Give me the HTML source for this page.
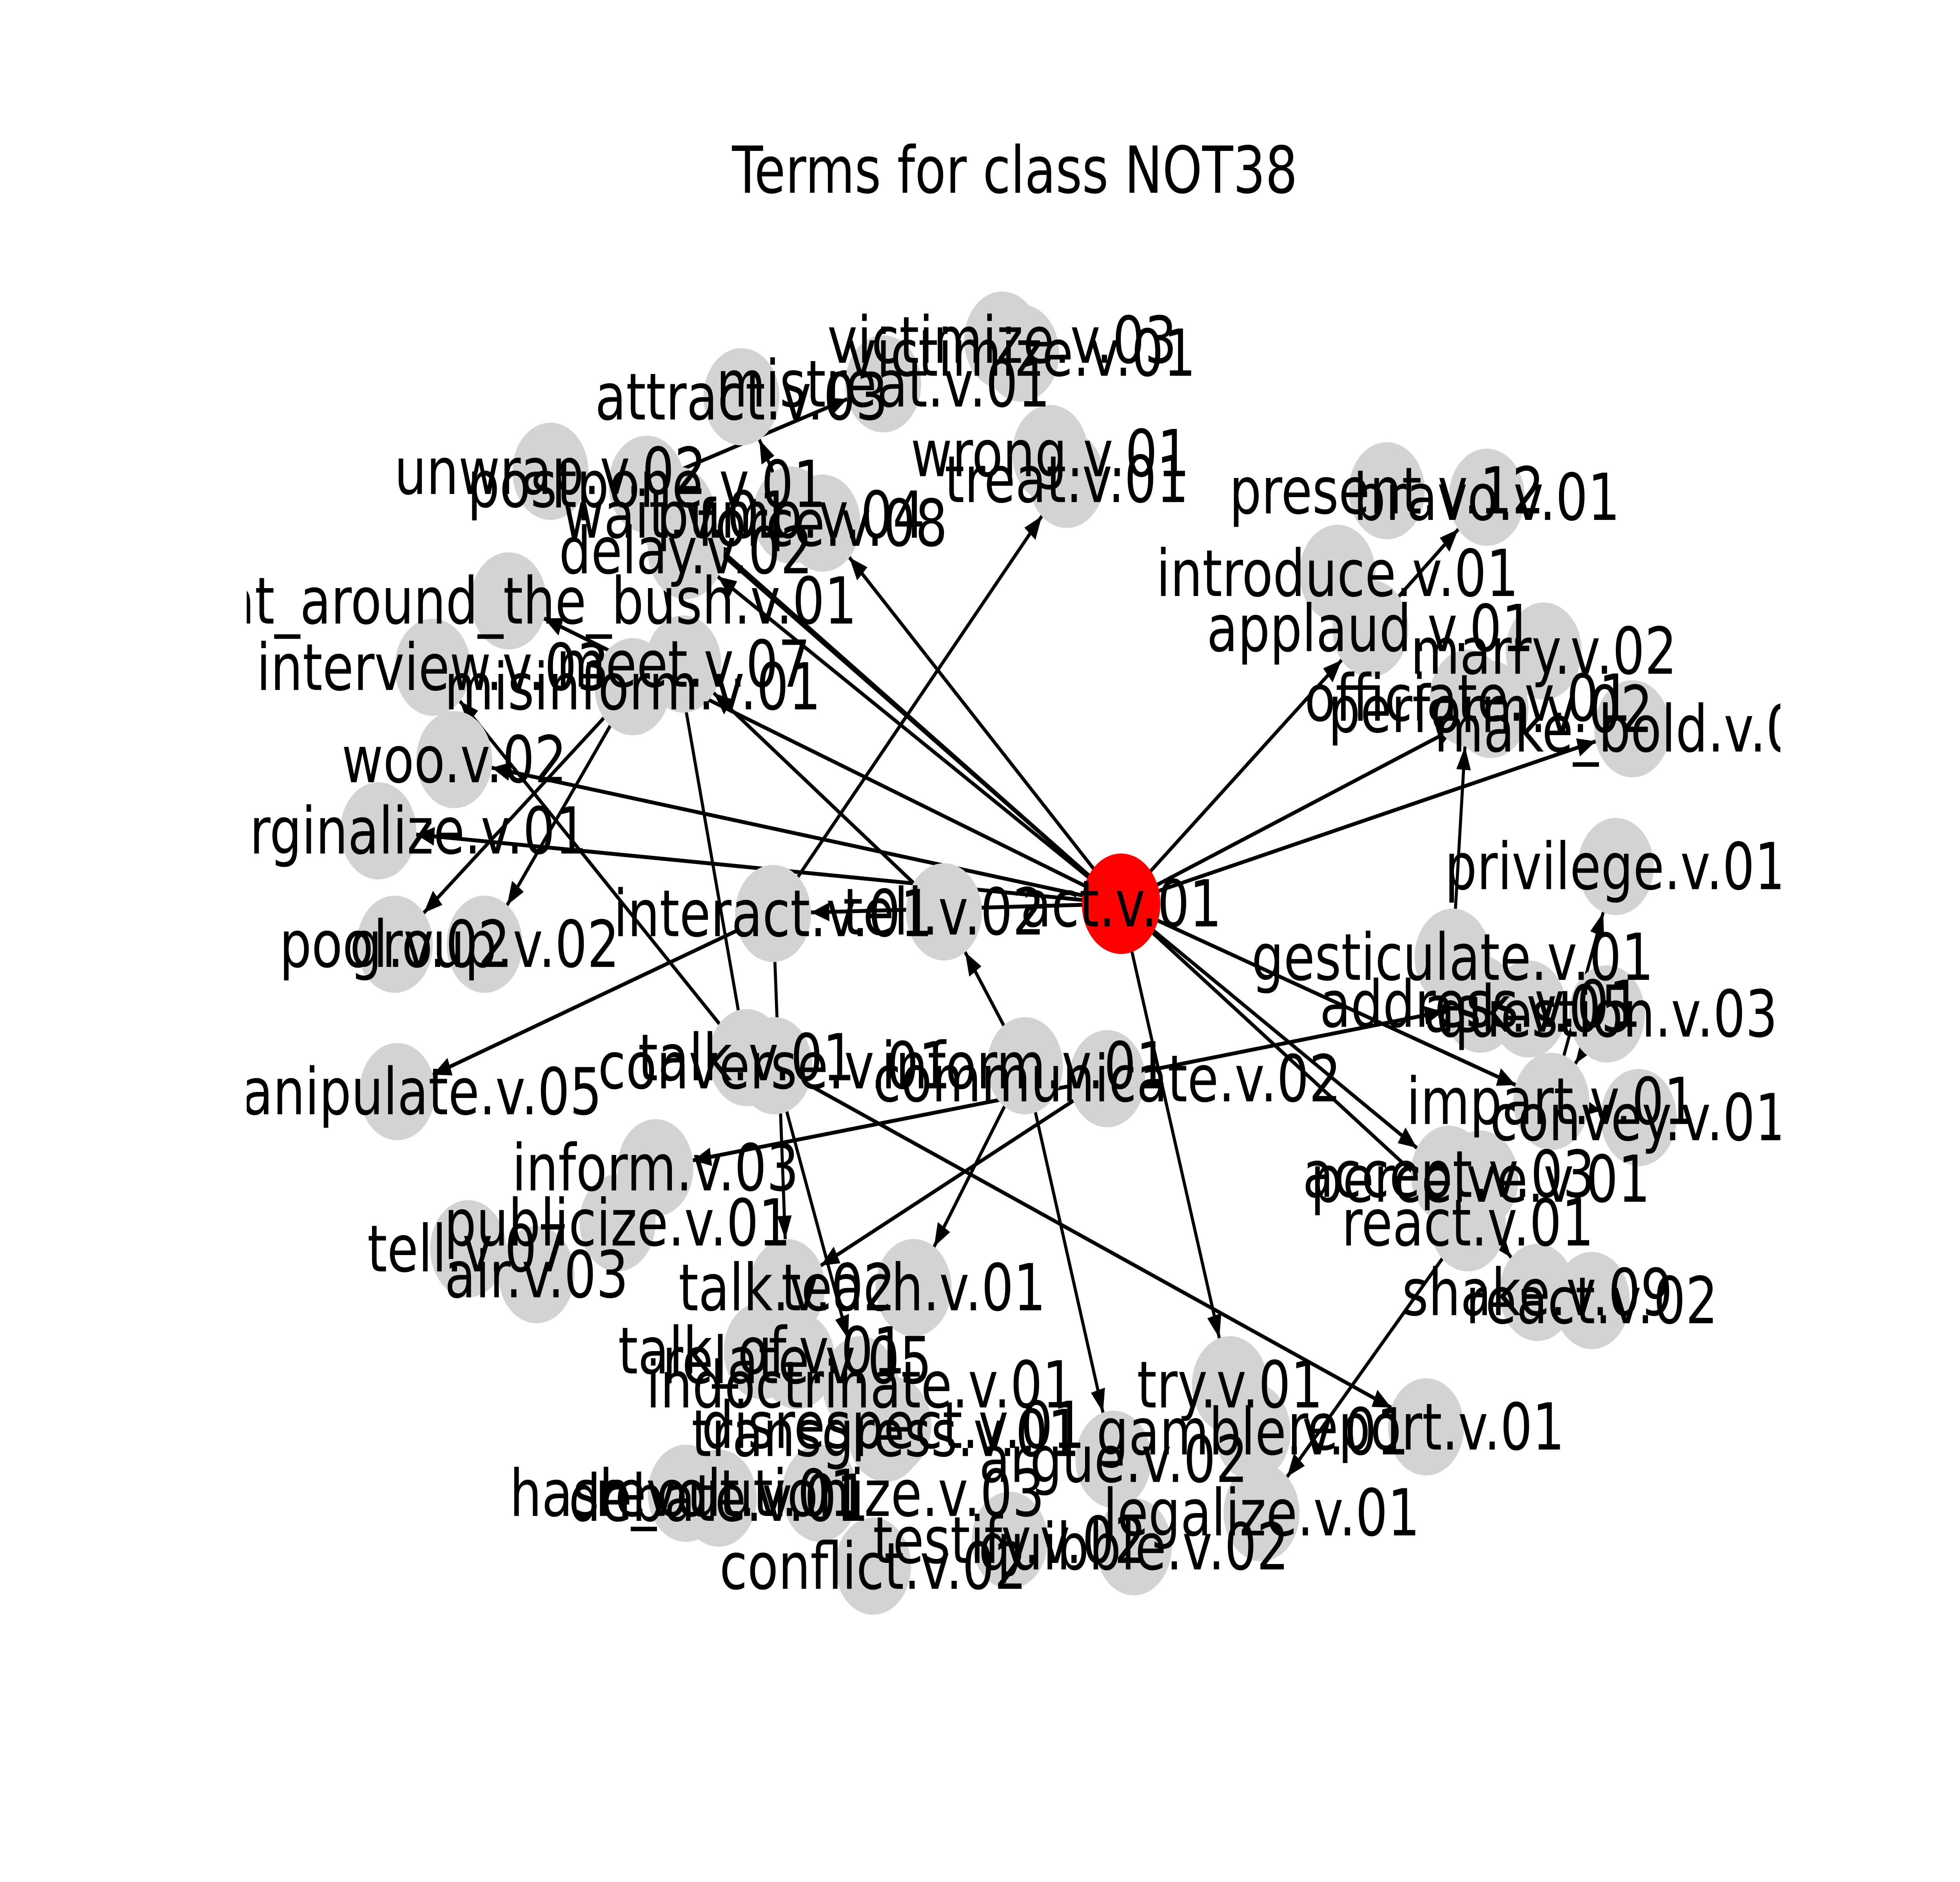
<!DOCTYPE html>
<html><head><meta charset="utf-8"><style>
html,body{margin:0;padding:0;background:#fff;width:100%;height:100%;overflow:hidden}
svg{display:block;position:absolute;left:0;top:0;width:100vw;height:100vh}
text{font-family:"DejaVu Sans","Liberation Sans",sans-serif}
</style></head><body>
<svg id="chart" viewBox="0 0 1549 1162" preserveAspectRatio="none" xmlns="http://www.w3.org/2000/svg">
<defs>
<clipPath id="axclip"><rect x="195" y="140" width="1212" height="880"/></clipPath>
<marker id="arr" viewBox="0 0 10 10" refX="10" refY="5" markerWidth="6" markerHeight="6" markerUnits="strokeWidth" orient="auto"><path d="M0,1 L10,5 L0,9 z" fill="#000"/></marker>
</defs>
<text x="802" y="119" font-size="40" text-anchor="middle">Terms for class NOT38</text>
<g id="edges"></g>
<g id="nodes"></g>
<g id="labels" clip-path="url(#axclip)"></g>
</svg>
<script>
const nodeNames = ["act.v.01","victimize.v.03","victimize.v.01","attract.v.03","mistreat.v.01","wrong.v.01","treat.v.01","unwrap.v.02","postpone.v.01","wait.v.01","pump.v.04","force.v.08","delay.v.02","beat_around_the_bush.v.01","interview.v.03","meet.v.07","misinform.v.01","woo.v.02","marginalize.v.01","pool.v.02","group.v.02","interact.v.01","tell.v.02","manipulate.v.05","talk.v.01","converse.v.01","inform.v.01","communicate.v.02","inform.v.03","publicize.v.01","tell.v.07","air.v.03","talk.v.02","teach.v.01","talk_of.v.01","relate.v.05","indoctrinate.v.01","disrespect.v.01","transgress.v.01","hash_out.v.01","debate.v.01","revolutionize.v.03","argue.v.02","gamble.v.01","conflict.v.02","testify.v.02","quibble.v.02","legalize.v.01","try.v.01","report.v.01","present.v.12","bravo.v.01","introduce.v.01","applaud.v.01","marry.v.02","officiate.v.01","perform.v.02","make_bold.v.01","privilege.v.01","gesticulate.v.01","address.v.01","ask.v.05","question.v.03","impart.v.01","convey.v.01","accept.v.03","perceive.v.01","react.v.01","shake.v.09","react.v.02"];
const nodeX = [886,792,807,586,698,830,843,435,511,535,625,650,542,402,342,540,500,359,299,312,383,611,746,314,590,612,810,875,518,488,370,424,622,722,602,630,680,706,700,542,568,648,880,990,690,798,896,997,972,1127,1096,1175,1057,1083,1220,1160,1178,1290,1277,1148,1170,1208,1270,1226,1295,1145,1170,1160,1215,1258];
const nodeY = [558,210,218,245,237,280,296,291,299,318,318,323,340,371,412,410,424,469,513,583,583,564,563,674,653,658,658,666,721,755,771,787,795,795,834,840,855,880,885,922,925,922,901,884,967,951,955,934,855,881,303,307,354,388,402,431,438,450,535,591,620,623,626,680,690,725,728,755,798,803];
const edgeFrom = [0,0,0,0,0,0,0,0,0,0,0,0,0,0,10,8,21,21,21,16,24,26,26,26,27,27,27,25,25,22,59,63,67,65,24,16,0,53,62,63];
const edgeTo   = [12,11,13,17,18,53,56,57,48,67,63,21,65,8,3,4,6,23,32,20,14,22,33,42,28,60,32,36,49,15,55,58,47,68,8,19,9,51,63,64];

const NS="http://www.w3.org/2000/svg";
const eg=document.getElementById('edges'), ng=document.getElementById('nodes'), lg=document.getElementById('labels');
function px(i){return nodeX[i];}
function py(i){return nodeY[i];}
for(let k=0;k<edgeFrom.length;k++){
  const a=edgeFrom[k], b=edgeTo[k];
  const x1=px(a),y1=py(a),x2=px(b),y2=py(b);
  const d=Math.hypot(x2-x1,y2-y1)||1, ux=(x2-x1)/d, uy=(y2-y1)/d;
  const l=document.createElementNS(NS,'line');
  l.setAttribute('x1',x1+ux*30);l.setAttribute('y1',y1+uy*30);
  l.setAttribute('x2',x2-ux*30);l.setAttribute('y2',y2-uy*30);
  l.setAttribute('stroke','#000');l.setAttribute('stroke-width','2.4');
  l.setAttribute('marker-end','url(#arr)');
  
  
  eg.appendChild(l);
}
for(let i=nodeNames.length-1;i>=0;i--){
  const c=document.createElementNS(NS,'circle');
  c.setAttribute('cx',px(i));c.setAttribute('cy',py(i));
  c.setAttribute('r',i===0?31:30);
  c.setAttribute('fill',i===0?'#ff0000':'#d3d3d3');
  
  
  ng.appendChild(c);
}
for(let i=0;i<nodeNames.length;i++){
  const t=document.createElementNS(NS,'text');
  t.setAttribute('x',px(i));t.setAttribute('y',py(i)+14);
  t.setAttribute('font-size','40');t.setAttribute('text-anchor','middle');
  t.textContent=nodeNames[i];
  
  
  lg.appendChild(t);
}
</script>
</body></html>
